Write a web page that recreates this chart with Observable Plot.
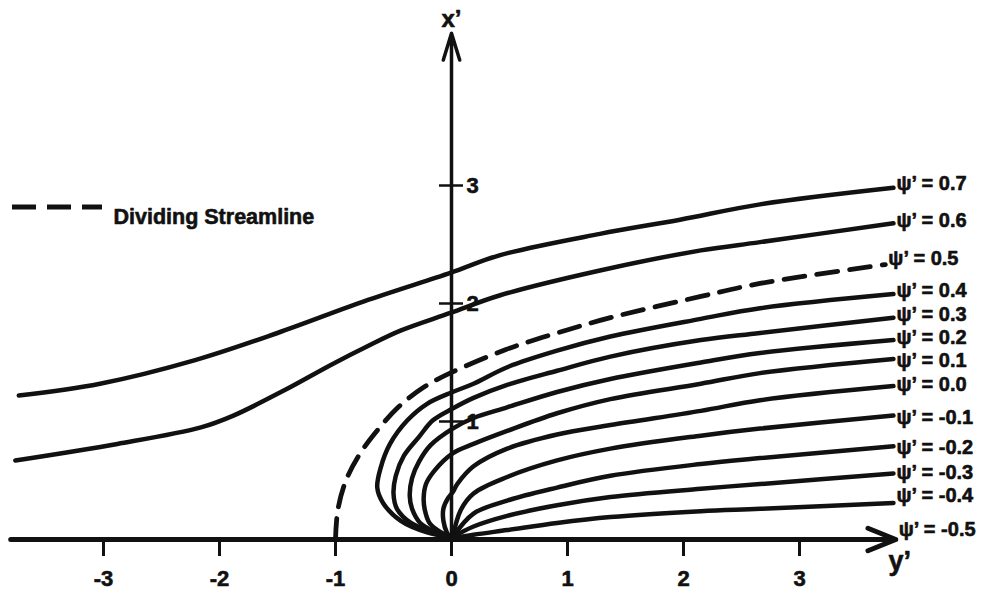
<!DOCTYPE html>
<html>
<head>
<meta charset="utf-8">
<script src="https://cdn.jsdelivr.net/npm/d3@7"></script>
<script src="https://cdn.jsdelivr.net/npm/@observablehq/plot@0.6"></script>
<style>
  body { margin: 0; background: #fff; }
  #chart svg { display: block; }
</style>
</head>
<body>
<div id="chart"></div>
<script>
// Streamlines: each point is [y', x']
const psi07 = [[-3.73,1.22],[-3.03,1.32],[-2.21,1.52],[-1.50,1.75],[-0.72,2.03],[-0.01,2.26],[0.42,2.41],[1.28,2.59],[1.97,2.71],[2.66,2.84],[3.81,2.98]];
const psi06 = [[-3.76,0.67],[-2.88,0.81],[-2.16,0.95],[-1.88,1.05],[-1.45,1.26],[-1.02,1.49],[-0.72,1.64],[-0.44,1.77],[-0.01,1.92],[0.42,2.07],[1.28,2.28],[2.15,2.45],[2.66,2.52],[3.81,2.68]];
const psi05 = [[-1.00,0.00],[-0.98,0.25],[-0.91,0.50],[-0.80,0.71],[-0.66,0.90],[-0.46,1.12],[-0.24,1.29],[0.01,1.42],[0.47,1.61],[0.91,1.75],[1.37,1.88],[2.15,2.06],[2.66,2.17],[3.74,2.33]];
const psi04 = [[-0.01,0.02],[-0.21,0.06],[-0.44,0.16],[-0.59,0.31],[-0.64,0.44],[-0.61,0.61],[-0.53,0.81],[-0.38,1.01],[-0.21,1.15],[0.01,1.25],[0.19,1.32],[0.48,1.46],[0.91,1.60],[1.37,1.72],[2.15,1.87],[2.66,1.96],[3.81,2.08]];
const psi03 = [[-0.01,0.02],[-0.16,0.06],[-0.35,0.14],[-0.47,0.26],[-0.50,0.39],[-0.48,0.54],[-0.41,0.71],[-0.28,0.87],[-0.16,1.01],[0.01,1.11],[0.19,1.20],[0.48,1.31],[0.91,1.43],[1.37,1.55],[2.15,1.69],[2.66,1.75],[3.81,1.88]];
const psi02 = [[-0.01,0.02],[-0.13,0.06],[-0.27,0.14],[-0.34,0.26],[-0.36,0.37],[-0.34,0.52],[-0.28,0.66],[-0.18,0.80],[0.01,0.94],[0.19,1.03],[0.48,1.12],[0.91,1.25],[1.37,1.36],[2.15,1.50],[2.66,1.58],[3.81,1.69]];
const psi01 = [[-0.01,0.02],[-0.09,0.06],[-0.19,0.14],[-0.23,0.25],[-0.24,0.35],[-0.22,0.47],[-0.15,0.58],[0.01,0.73],[0.19,0.81],[0.48,0.92],[0.91,1.07],[1.37,1.19],[2.15,1.32],[2.66,1.41],[3.81,1.53]];
const psi00 = [[-0.01,0.02],[-0.04,0.06],[-0.07,0.16],[-0.07,0.26],[-0.03,0.35],[0.01,0.40],[0.05,0.47],[0.19,0.62],[0.48,0.77],[0.91,0.89],[1.37,0.97],[2.15,1.09],[2.66,1.18],[3.81,1.30]];
const psiM01 = [[0.01,0.02],[0.08,0.25],[0.19,0.39],[0.48,0.53],[0.91,0.67],[1.37,0.77],[2.15,0.88],[2.66,0.94],[3.81,1.05]];
const psiM02 = [[0.01,0.02],[0.19,0.22],[0.48,0.33],[0.91,0.44],[1.37,0.54],[2.15,0.64],[2.66,0.69],[3.81,0.79]];
const psiM03 = [[0.01,0.02],[0.19,0.11],[0.48,0.20],[0.91,0.29],[1.37,0.36],[2.15,0.43],[2.66,0.47],[3.81,0.56]];
const psiM04 = [[0.01,0.01],[0.19,0.04],[0.48,0.08],[0.91,0.14],[1.37,0.19],[2.15,0.24],[2.66,0.26],[3.81,0.31]];

const curveNames = ["0.7","0.6","0.5","0.4","0.3","0.2","0.1","0.0","-0.1","-0.2","-0.3","-0.4"];
const curveValues = [psi07, psi06, psi05, psi04, psi03, psi02, psi01, psi00, psiM01, psiM02, psiM03, psiM04];
const dividingName = "0.5";
const axisName = "-0.5";   // the y' axis itself is the ψ' = -0.5 streamline

// x' level of each ψ' label as printed at the right edge (same order, then ψ' = -0.5)
const labelNames = [...curveNames, axisName];
const labelLevels = [3.02, 2.70, 2.38, 2.11, 1.91, 1.71, 1.52, 1.31, 1.03, 0.78, 0.57, 0.37, 0.08];

const xTicks = [-3, -2, -1, 0, 1, 2, 3];   // y' axis
const yTicks = [1, 2, 3];                  // x' axis
const hAxis = [{x1: -3.80, y1: 0, x2: 3.83, y2: 0}];
const vAxis = [{x1: 0, y1: 0, x2: 0, y2: 4.29}];
const legendLabel = "Dividing Streamline";

// build tables
const rows = curveNames.flatMap((name, i) => curveValues[i].map(([yp, xp]) => ({psi: name, yp, xp})));
const solid = rows.filter(d => d.psi !== dividingName);
const dashed = rows.filter(d => d.psi === dividingName);
const labels = labelNames.map((name, i) => {
  const pts = curveValues[i];
  const yp = pts ? pts[pts.length - 1][0] : hAxis[0].x2;
  return {psi: name, yp, xp: labelLevels[i]};
});

const font = "'Liberation Sans', Arial, Helvetica, sans-serif";
const ink = "#111";
const heavy = {fontWeight: "bold", fill: ink, stroke: ink, strokeWidth: 0.6};

const chart = Plot.plot({
  width: 993,
  height: 593,
  margin: 0,
  x: {domain: [-451 / 116, (993 - 451) / 116], axis: null},
  y: {domain: [(539 - 593) / 118, 539 / 118], axis: null},
  style: {fontFamily: font, background: "#fff", color: ink},
  marks: [
    // axes
    Plot.arrow(hAxis, {x1: "x1", y1: "y1", x2: "x2", y2: "y2", stroke: ink, strokeWidth: 5, headLength: 9, headAngle: 44}),
    Plot.arrow(vAxis, {x1: "x1", y1: "y1", x2: "x2", y2: "y2", stroke: ink, strokeWidth: 3.5, headLength: 12, headAngle: 34}),
    Plot.ruleX(xTicks, {x: d => d, y1: 0, y2: 0, insetBottom: -17, stroke: ink, strokeWidth: 3}),
    Plot.ruleY(yTicks, {y: d => d, x1: 0, x2: 0, insetLeft: -12, insetRight: -12, stroke: ink, strokeWidth: 2.5}),
    Plot.text(xTicks, {x: d => d, y: 0, dy: 39, text: d => String(d), fontSize: 22, ...heavy}),
    Plot.text(yTicks, {x: 0, y: d => d, dx: 15, text: d => String(d), textAnchor: "start", fontSize: 22, ...heavy}),
    Plot.text(vAxis, {x: "x2", y: "y2", dy: -14, text: () => "x’", fontSize: 24, ...heavy}),
    Plot.text(hAxis, {x: "x2", y: "y2", dx: 4, dy: 22, text: () => "y’", fontSize: 27, ...heavy}),
    // streamlines
    Plot.line(solid, {x: "yp", y: "xp", z: "psi", curve: "catmull-rom", stroke: ink, strokeWidth: 4.5, strokeLinejoin: "round", strokeLinecap: "round"}),
    Plot.line(dashed, {x: "yp", y: "xp", curve: "catmull-rom", stroke: ink, strokeWidth: 4.8, strokeDasharray: "21,12"}),
    Plot.text(labels, {x: "yp", y: "xp", dx: 3, text: d => `ψ’ = ${d.psi}`, textAnchor: "start", fontSize: 20, ...heavy}),
    // legend
    () => d3.create("svg:line")
      .attr("x1", 12).attr("x2", 102).attr("y1", 207).attr("y2", 207)
      .attr("stroke", ink).attr("stroke-width", 5).attr("stroke-dasharray", "24,11")
      .node(),
    Plot.text([legendLabel], {frameAnchor: "top-left", dx: 113, dy: 208, text: d => d, textAnchor: "start", fontSize: 21.5, ...heavy})
  ]
});

document.getElementById("chart").append(chart);
</script>
</body>
</html>
